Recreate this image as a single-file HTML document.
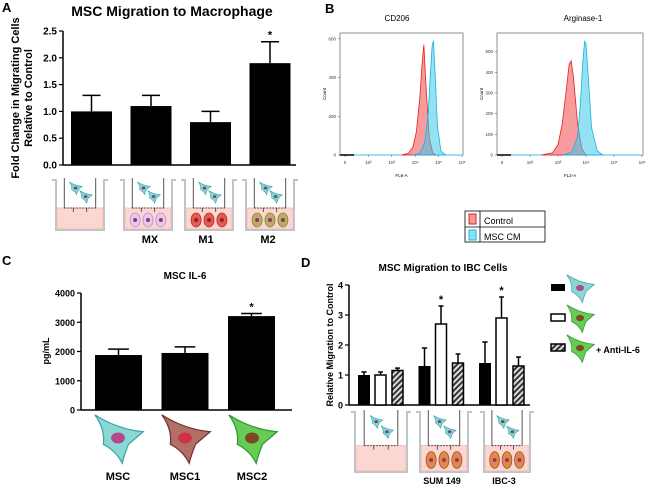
<!DOCTYPE html>
<html><head><meta charset="utf-8">
<style>
html,body{margin:0;padding:0;background:#fff;}
svg{display:block;font-family:"Liberation Sans",Arial,sans-serif;}
</style></head>
<body>
<svg id="fig" width="650" height="487" viewBox="0 0 650 487" xmlns="http://www.w3.org/2000/svg">
<text x="2" y="12" font-size="13" font-weight="bold">A</text>
<text x="325" y="13" font-size="13" font-weight="bold">B</text>
<text x="2" y="265" font-size="13" font-weight="bold">C</text>
<text x="301" y="267" font-size="13" font-weight="bold">D</text>

<text x="172" y="16" font-size="14" font-weight="bold" text-anchor="middle">MSC Migration to Macrophage</text>
<text transform="translate(19,98) rotate(-90)" font-size="11" font-weight="bold" text-anchor="middle">Fold Change in  Migrating Cells</text>
<text transform="translate(32,98) rotate(-90)" font-size="11" font-weight="bold" text-anchor="middle">Relative to Control</text>
<g id="gA"></g>
<g id="wellsA"></g>
<text x="150" y="243" font-size="11" font-weight="bold" text-anchor="middle">MX</text>
<text x="206" y="243" font-size="11" font-weight="bold" text-anchor="middle">M1</text>
<text x="268" y="243" font-size="11" font-weight="bold" text-anchor="middle">M2</text>

<text x="397" y="21" font-size="8" text-anchor="middle">CD206</text>
<text x="583" y="21" font-size="8" text-anchor="middle">Arginase-1</text>
<g id="gB1"></g>
<g id="gB2"></g>
<g>
<rect x="465" y="211" width="80" height="31" fill="#fff" stroke="#000" stroke-width="0.8"/>
<line x1="465" y1="227" x2="545" y2="227" stroke="#000" stroke-width="0.8"/>
<line x1="480" y1="211" x2="480" y2="242" stroke="#000" stroke-width="0.8"/>
<rect x="469" y="214" width="7" height="10" fill="#f49a9a" stroke="#e02020"/>
<rect x="469" y="230" width="7" height="10" fill="#8ee0f5" stroke="#10b8e0"/>
<text x="484" y="224" font-size="9">Control</text>
<text x="484" y="240" font-size="9">MSC CM</text>
</g>

<text x="185" y="279" font-size="10" font-weight="bold" text-anchor="middle">MSC IL-6</text>
<text transform="translate(49,351) rotate(-90)" font-size="9" font-weight="bold" text-anchor="middle">pg/mL</text>
<g id="gC"></g>
<g id="cellsC"></g>
<text x="118" y="480" font-size="11" font-weight="bold" text-anchor="middle">MSC</text>
<text x="185" y="480" font-size="11" font-weight="bold" text-anchor="middle">MSC1</text>
<text x="252" y="480" font-size="11" font-weight="bold" text-anchor="middle">MSC2</text>

<text x="443" y="271" font-size="10" font-weight="bold" text-anchor="middle">MSC Migration to IBC Cells</text>
<text transform="translate(333,345) rotate(-90)" font-size="9" font-weight="bold" text-anchor="middle">Relative Migration to  Control</text>
<g id="gD"></g>
<g id="wellsD"></g>
<text x="442" y="484" font-size="9" font-weight="bold" text-anchor="middle">SUM 149</text>
<text x="504" y="484" font-size="9" font-weight="bold" text-anchor="middle">IBC-3</text>
<g id="legD"></g>
<text x="596" y="353" font-size="9" font-weight="bold">+ Anti-IL-6</text>
<defs>
<pattern id="hatch" width="4" height="4" patternUnits="userSpaceOnUse" patternTransform="rotate(45)">
<rect width="4" height="4" fill="#ddd"/><rect width="2" height="4" fill="#333"/></pattern>
</defs>
</svg>
<script>
// Panel A data
const aCats = ['Control','MX','M1','M2'];
const aVals = [1.0, 1.1, 0.8, 1.9];
const aErr = [0.3, 0.2, 0.2, 0.4];
const aTicks = ['0.0','0.5','1.0','1.5','2.0','2.5'];
// Panel C data
const cCats = ['MSC','MSC1','MSC2'];
const cVals = [1880, 1950, 3210];
const cErr = [200, 210, 90];
const cTicks = ['0','1000','2000','3000','4000'];
// Panel D data
const dGroups = ['Control','SUM 149','IBC-3'];
const dMSC = [1.0, 1.3, 1.4];
const dMSC2 = [1.0, 2.7, 2.9];
const dAnti = [1.15, 1.4, 1.3];
const dErrMSC = [0.1, 0.6, 0.7];
const dErrMSC2 = [0.1, 0.6, 0.7];
const dErrAnti = [0.08, 0.3, 0.3];
const dTicks = ['0','1','2','3','4'];
// Panel B histograms (log10 fluorescence, counts)
const cdLog = [3.4, 3.7, 3.9, 4.05, 4.2, 4.3, 4.37, 4.45, 4.6, 4.75, 4.9];
const cdControl = [0, 8, 40, 120, 300, 480, 570, 380, 90, 10, 0];
const cdLogCM = [3.9, 4.2, 4.4, 4.55, 4.65, 4.72, 4.78, 4.85, 4.95, 5.1, 5.3];
const cdCM = [0, 10, 60, 200, 420, 560, 590, 420, 150, 20, 0];
const argLog = [2.4, 2.8, 3.0, 3.15, 3.3, 3.4, 3.47, 3.55, 3.7, 3.85, 4.0];
const argControl = [0, 10, 50, 150, 320, 440, 455, 380, 150, 30, 0];
const argLogCM = [3.2, 3.5, 3.7, 3.8, 3.88, 3.95, 4.0, 4.08, 4.2, 4.4, 4.6];
const argCM = [0, 15, 90, 250, 440, 550, 540, 380, 130, 20, 0];
const cdTickLabels = ['0','200','400','600'];
const argTickLabels = ['0','100','200','300','400','500'];
const xDecades = ['0','10²','10³','10⁴','10⁵','10⁶'];

const NS='http://www.w3.org/2000/svg';
function mk(tag, attrs, parent){const e=document.createElementNS(NS,tag);for(const k in attrs)e.setAttribute(k,attrs[k]);parent.appendChild(e);return e;}

function barChart(g, o){
  const y = v => o.y0 - (v - 0) / o.max * (o.y0 - o.y1);
  mk('line',{x1:o.x0,y1:o.y1,x2:o.x0,y2:o.y0,stroke:'#000','stroke-width':1.5},g);
  mk('line',{x1:o.x0,y1:o.y0,x2:o.xEnd,y2:o.y0,stroke:'#000','stroke-width':1.5},g);
  o.ticks.forEach((t,i)=>{
    const v = o.max*i/(o.ticks.length-1);
    mk('line',{x1:o.x0-4,y1:y(v),x2:o.x0,y2:y(v),stroke:'#000','stroke-width':1.2},g);
    const tx=mk('text',{x:o.x0-6,y:y(v)+3.5,'font-size':o.fs,'font-weight':'bold','text-anchor':'end'},g);
    tx.textContent=t;
    
    
  });
  return y;
}
function bar(g,x,w,v,e,y,y0,fill,star){
  const r=mk('rect',{x:x,y:y(v),width:w,height:y0-y(v),fill:fill,stroke:'#000','stroke-width':fill==='#000'?0:1.5},g);
  
  
  const top=y(v+e);
  mk('line',{x1:x+w/2,y1:y(v),x2:x+w/2,y2:top,stroke:'#000','stroke-width':1.5},g);
  mk('line',{x1:x+w/2-w*0.22,y1:top,x2:x+w/2+w*0.22,y2:top,stroke:'#000','stroke-width':1.5},g);
  if(star){const s=mk('text',{x:x+w/2,y:top-3,'font-size':11,'font-weight':'bold','text-anchor':'middle'},g);s.textContent='*';
    
    }
}
// Panel A
const gA=document.getElementById('gA');
const yA=barChart(gA,{x0:63,y0:165,y1:31,xEnd:296,max:2.5,ticks:aTicks,fs:10});
aCats.forEach((c,i)=>bar(gA,71+i*59.5,41,aVals[i],aErr[i],yA,165,'#000',i===3));
// Panel C
const gC=document.getElementById('gC');
const yC=barChart(gC,{x0:81,y0:410,y1:293,xEnd:292,max:4000,ticks:cTicks,fs:9});
cCats.forEach((c,i)=>bar(gC,95+i*66.5,47,cVals[i],cErr[i],yC,410,'#000',i===2));
// Panel D
const gD=document.getElementById('gD');
const yD=barChart(gD,{x0:349,y0:405,y1:285,xEnd:530,max:4,ticks:dTicks,fs:9});
dGroups.forEach((c,i)=>{
  const gx=358+i*60.5;
  bar(gD,gx,12,dMSC[i],dErrMSC[i],yD,405,'#000',false);
  bar(gD,gx+17,11,dMSC2[i],dErrMSC2[i],yD,405,'#fff',i>0);
  bar(gD,gx+34,11,dAnti[i],dErrAnti[i],yD,405,'url(#hatch)',false);
});
// cells
function cell(g,cx,cy,s,body,edge,nuc){
  const p=`M${cx-s*1.1},${cy-s*1.1} Q${cx},${cy-s*0.4} ${cx+s*1.2},${cy-s*0.3} L${cx+s*0.5},${cy+s*0.3} Q${cx+s*0.3},${cy+s*0.8} ${cx+s*0.2},${cy+s*1.2} Q${cx-s*0.1},${cy+s*0.6} ${cx-s*0.7},${cy+s*0.3} Q${cx-s*0.6},${cy-s*0.4} ${cx-s*1.1},${cy-s*1.1}Z`;
  const e=mk('path',{d:p,fill:body,stroke:edge,'stroke-width':Math.max(0.6,s*0.06)},g);
  
  
  mk('ellipse',{cx:cx,cy:cy,rx:s*0.33,ry:s*0.26,fill:nuc},g);
}
function well(g,x,y,w,h,kind,n){
  const base=mk('path',{d:`M${x},${y} L${x+4},${y} L${x+4},${y+h} L${x+w-4},${y+h} L${x+w-4},${y} L${x+w},${y}`,fill:'none',stroke:'#b9c7cc','stroke-width':2},g);
  
  
  mk('rect',{x:x+5,y:y+h*0.56,width:w-10,height:h*0.44-1,fill:'#fbd6d3',stroke:'#f3b9a8','stroke-width':0.8},g);
  const l=x+w*0.22,r=x+w*0.78,m=y+h*0.56;
  mk('line',{x1:l,y1:y-2,x2:l,y2:m,stroke:'#555','stroke-width':1},g);
  mk('line',{x1:r,y1:y-2,x2:r,y2:m,stroke:'#555','stroke-width':1},g);
  mk('line',{x1:l,y1:m,x2:r,y2:m,stroke:'#333','stroke-width':1,'stroke-dasharray':'1.5,1.5'},g);
  mk('line',{x1:x+w*0.38,y1:m,x2:x+w*0.38,y2:m+4,stroke:'#333','stroke-width':0.8},g);
  mk('line',{x1:x+w*0.62,y1:m,x2:x+w*0.62,y2:m+4,stroke:'#333','stroke-width':0.8},g);
  cell(g,x+w*0.42,y+h*0.16,5.5,'#7fd8d6','#2aa6a2','#a0306a');
  cell(g,x+w*0.6,y+h*0.33,5.5,'#7fd8d6','#2aa6a2','#a0306a');
  if(kind){
    for(let k=0;k<3;k++){
      const cx=x+w*(0.27+k*0.23), cy=y+h*0.8;
      mk('ellipse',{cx:cx,cy:cy,rx:w*0.09,ry:h*0.14,fill:kind[0],stroke:kind[1],'stroke-width':0.8},g);
      mk('circle',{cx:cx,cy:cy,r:2,fill:kind[2]},g);
    }
  }
}
const wA=document.getElementById('wellsA');
well(wA,52,180,56,50,null);
well(wA,120,180,56,50,['#e8c8ec','#b896c0','#9a3070']);
well(wA,181,180,56,50,['#e65a52','#b83028','#8a2030']);
well(wA,242,180,56,50,['#b8b060','#8a8040','#9a3070']);
const wD=document.getElementById('wellsD');
well(wD,351,412,60,60,null);
well(wD,416,412,56,60,['#e08a4a','#a05020','#9a3070']);
well(wD,480,412,54,60,['#e08a4a','#a05020','#9a3070']);
// Panel C big cells
const cC=document.getElementById('cellsC');
cell(cC,118,438,21,'#8ad8d6','#3aa6a4','#b04a8a');
cell(cC,185,438,21,'#b07068','#7a3030','#d03048');
cell(cC,252,438,21,'#66cc55','#2f9a2a','#7a4a20');
// Panel D legend
const lD=document.getElementById('legD');
mk('rect',{x:551,y:284,width:14,height:7,fill:'#000'},lD);
mk('rect',{x:551,y:314,width:14,height:7,fill:'#fff',stroke:'#000','stroke-width':1.5},lD);
mk('rect',{x:551,y:344,width:14,height:7,fill:'url(#hatch)',stroke:'#000','stroke-width':1.5},lD);
cell(lD,580,288,12,'#8ad8d6','#3aa6a4','#b04a8a');
cell(lD,580,318,12,'#66cc55','#2f9a2a','#7a4a20');
cell(lD,580,348,12,'#66cc55','#2f9a2a','#7a4a20');
// Panel B
function hist(g,o){
  mk('rect',{x:o.x0,y:o.y1,width:o.x1-o.x0,height:o.y0-o.y1,fill:'#fff',stroke:'#777','stroke-width':0.8},g);
  const xs = L => o.x0+5 + (L-1)/5*(o.x1-o.x0-6);
  const ys = c => o.y0 - c/o.cmax*(o.y0-o.y1);
  const X=[0,2,3,4,5,6];
  X.forEach((d,i)=>{const xx=i===0?xs(1):xs(d);mk('line',{x1:xx,y1:o.y0,x2:xx,y2:o.y0+2,stroke:'#444','stroke-width':0.5},g);
    const t=mk('text',{x:xx,y:o.y0+9,'font-size':4.5,'text-anchor':'middle',fill:'#333'},g);t.textContent=xDecades[i];});
  o.tl.forEach((t,i)=>{const c=o.step*i;mk('line',{x1:o.x0-2,y1:ys(c),x2:o.x0,y2:ys(c),stroke:'#444','stroke-width':0.5},g);
    const tx=mk('text',{x:o.x0-4,y:ys(c)+1.5,'font-size':4.5,'text-anchor':'end',fill:'#333'},g);tx.textContent=t;});
  mk('line',{x1:o.x0,y1:o.y0,x2:o.x1,y2:o.y0,stroke:'#3bc3e6','stroke-width':1},g);
  mk('line',{x1:o.x0,y1:o.y0,x2:o.x0+14,y2:o.y0,stroke:'#000','stroke-width':1.5},g);
  [[o.lc,o.cc,'rgba(240,90,90,0.6)','#e62020','histogram-control'],[o.lm,o.cm,'rgba(60,200,235,0.55)','#14b4e0','histogram-msc-cm']].forEach(s=>{
    let d=`M${xs(s[0][0])},${o.y0}`;
    s[0].forEach((L,i)=>{d+=` L${xs(L)},${ys(s[1][i])}`;});
    d+=` L${xs(s[0][s[0].length-1])},${o.y0}Z`;
    const p=mk('path',{d:d,fill:s[2],stroke:s[3],'stroke-width':0.8},g);
    
    
  });
  const ct=mk('text',{transform:`translate(${o.x0-14},${(o.y0+o.y1)/2}) rotate(-90)`,'font-size':4.5,'text-anchor':'middle'},g);ct.textContent='Count';
  const xt=mk('text',{x:(o.x0+o.x1)/2,y:o.y0+22,'font-size':4.5,'text-anchor':'middle'},g);xt.textContent=o.xl;
}
hist(document.getElementById('gB1'),{x0:340,x1:463,y0:155,y1:33,cmax:630,step:200,tl:cdTickLabels,lc:cdLog,cc:cdControl,lm:cdLogCM,cm:cdCM,xl:'FL6-A'});
hist(document.getElementById('gB2'),{x0:497,x1:643,y0:155,y1:33,cmax:590,step:100,tl:argTickLabels,lc:argLog,cc:argControl,lm:argLogCM,cm:argCM,xl:'FL2-A'});
</script>
</body></html>
